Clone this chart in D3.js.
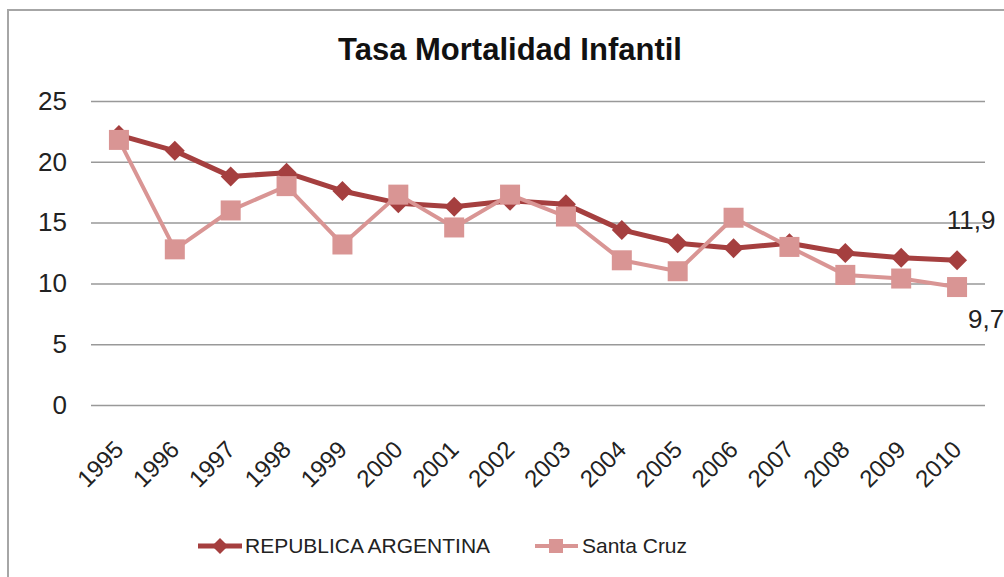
<!DOCTYPE html>
<html>
<head>
<meta charset="utf-8">
<script src="https://cdn.jsdelivr.net/npm/d3@7"></script>
<style>
  body { margin: 0; background: #fff; }
  text { font-family: "Liberation Sans", Arial, sans-serif; fill: #222; }
</style>
</head>
<body>
<svg id="chart" width="1004" height="577"></svg>
<script>
// data
const years = ["1995","1996","1997","1998","1999","2000","2001","2002","2003","2004","2005","2006","2007","2008","2009","2010"]
const argentina = [22.2, 20.9, 18.8, 19.1, 17.6, 16.6, 16.3, 16.8, 16.5, 14.4, 13.3, 12.9, 13.3, 12.5, 12.1, 11.9]
const santaCruz = [21.8, 12.8, 16.0, 18.0, 13.2, 17.3, 14.6, 17.3, 15.5, 11.9, 11.0, 15.4, 13.0, 10.7, 10.4, 9.7]
const yTicks = [0, 5, 10, 15, 20, 25]
const seriesNames = ["REPUBLICA ARGENTINA", "Santa Cruz"]

const colArg = "#a53f3f"
const colSC = "#d99594"

const svg = d3.select("#chart")

// outer frame of the chart area
svg.append("rect").attr("x", 8).attr("y", 10).attr("width", 1010).attr("height", 580)
  .attr("fill", "#fff").attr("stroke", "#a6a6a6").attr("stroke-width", 2)

svg.append("text").attr("x", 510).attr("y", 60).attr("text-anchor", "middle")
  .style("font-size", "31px").style("font-weight", "bold").style("fill", "#111")
  .text("Tasa Mortalidad Infantil")

const x = d3.scaleBand().domain(years).range([91, 985])
const y = d3.scaleLinear().domain([0, 25]).range([405, 101])
const cx = d => x(d) + x.bandwidth() / 2

// gridlines + y labels
const yAxis = d3.axisLeft(y).tickValues(yTicks).tickSize(-(985 - 91)).tickPadding(24)
const gy = svg.append("g").attr("transform", "translate(91,0)").call(yAxis)
gy.select(".domain").remove()
gy.selectAll("line").attr("stroke", "#999").attr("stroke-width", 1.5)
gy.selectAll("text").style("font-size", "26px").style("fill", "#222").attr("font-family", null)

// x labels, rotated
const xAxis = d3.axisBottom(x).tickSize(0).tickPadding(0)
const gx = svg.append("g").attr("transform", "translate(0,405)").call(xAxis)
gx.select(".domain").remove()
gx.selectAll("text")
  .attr("font-family", null)
  .style("font-size", "24px").style("fill", "#222")
  .attr("text-anchor", "end")
  .attr("dy", null).attr("y", 0)
  .attr("transform", "translate(6,46) rotate(-45)")

const line = d3.line().x((d, i) => cx(years[i])).y(d => y(d))

function diamond(g, px, py, r, c) {
  g.append("path").attr("d", `M${px},${py - r}L${px + r},${py}L${px},${py + r}L${px - r},${py}Z`).attr("fill", c)
}

// Argentina
svg.append("path").datum(argentina).attr("d", line).attr("fill", "none")
  .attr("stroke", colArg).attr("stroke-width", 5).attr("stroke-linejoin", "round")
const gA = svg.append("g")
argentina.forEach((v, i) => diamond(gA, cx(years[i]), y(v), 10, colArg))

// Santa Cruz (drawn on top)
svg.append("path").datum(santaCruz).attr("d", line).attr("fill", "none")
  .attr("stroke", colSC).attr("stroke-width", 4).attr("stroke-linejoin", "round")
svg.append("g").selectAll("rect").data(santaCruz).join("rect")
  .attr("x", (d, i) => cx(years[i]) - 10).attr("y", d => y(d) - 10)
  .attr("width", 20).attr("height", 20).attr("fill", colSC)

// end labels
const last = years.length - 1
svg.append("text").attr("x", cx(years[last]) + 14).attr("y", y(argentina[last]) - 40).attr("dy", "0.35em")
  .attr("text-anchor", "middle").style("font-size", "26px")
  .text(String(argentina[last]).replace(".", ","))
svg.append("text").attr("x", cx(years[last]) + 29).attr("y", y(santaCruz[last]) + 32).attr("dy", "0.35em")
  .attr("text-anchor", "middle").style("font-size", "26px")
  .text(String(santaCruz[last]).replace(".", ","))

// legend
const lg = svg.append("g").attr("transform", "translate(0,546)")
lg.append("line").attr("x1", 198).attr("x2", 242).attr("stroke", colArg).attr("stroke-width", 5)
diamond(lg, 220, 0, 8, colArg)
lg.append("text").attr("x", 245).attr("dy", "0.35em").style("font-size", "21px").text(seriesNames[0])
lg.append("line").attr("x1", 535).attr("x2", 578).attr("stroke", colSC).attr("stroke-width", 4)
lg.append("rect").attr("x", 549).attr("y", -7).attr("width", 14).attr("height", 14).attr("fill", colSC)
lg.append("text").attr("x", 582).attr("dy", "0.35em").style("font-size", "21px").text(seriesNames[1])
</script>
</body>
</html>
